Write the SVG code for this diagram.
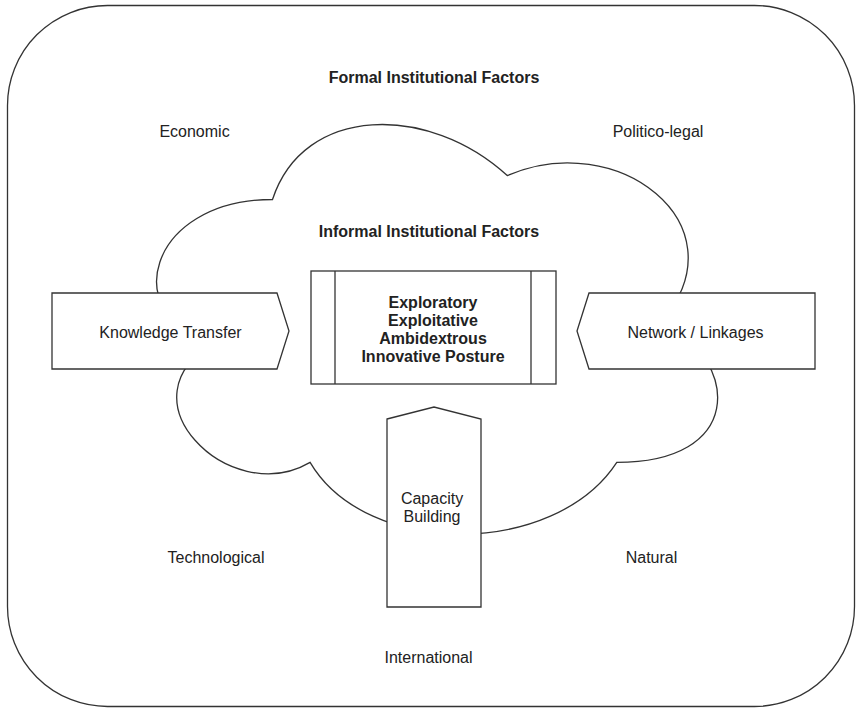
<svg xmlns="http://www.w3.org/2000/svg" width="856" height="708" viewBox="0 0 856 708">
  <style>
    .shape { fill: #ffffff; stroke: #333333; stroke-width: 1.3; stroke-linejoin: miter; }
    .line { fill: none; stroke: #333333; stroke-width: 1.3; }
    text { font-family: "Liberation Sans", Arial, Helvetica, sans-serif; font-size: 16px; fill: #222222; text-anchor: middle; }
    .bold { font-weight: bold; }
  </style>
  <rect width="856" height="708" fill="#ffffff"/>

  <!-- Formal institutional environment -->
  <g id="formal-factors">
    <rect class="shape" x="7.5" y="5.5" width="847" height="701" rx="100" ry="100"/>
    <text class="bold" x="434" y="83">Formal Institutional Factors</text>
    <text x="194.5" y="137">Economic</text>
    <text x="658" y="137">Politico-legal</text>
    <text x="216" y="563">Technological</text>
    <text x="651.5" y="563">Natural</text>
    <text x="428.5" y="663">International</text>
  </g>

  <!-- Informal institutional cloud -->
  <g id="informal-factors">
    <path class="shape" d="M272.5,199.5 C147.3,199.5 116,319 216.2,342.9 C116,395.5 228.7,510.2 310.1,462.4 C366.4,558 554.2,558 616.8,462.4 C742,462.4 742,366.8 663.75,319 C742,223.4 616.8,127.8 507.25,175.6 C429,103.9 303.8,103.9 272.5,199.5 Z"/>
    <text class="bold" x="429" y="237">Informal Institutional Factors</text>
  </g>

  <!-- Central posture process box -->
  <g id="innovative-posture">
    <rect class="shape" x="311" y="271" width="245" height="113"/>
    <line class="line" x1="335" y1="271" x2="335" y2="384"/>
    <line class="line" x1="531" y1="271" x2="531" y2="384"/>
    <text class="bold" x="433" y="307.5">Exploratory</text>
    <text class="bold" x="433" y="325.5">Exploitative</text>
    <text class="bold" x="433" y="343.5">Ambidextrous</text>
    <text class="bold" x="433" y="361.5">Innovative Posture</text>
  </g>

  <!-- Knowledge transfer (points right) -->
  <g id="knowledge-transfer">
    <path class="shape" d="M52,293 L277,293 L289,331 L277,369 L52,369 Z"/>
    <text x="170.5" y="338">Knowledge Transfer</text>
  </g>

  <!-- Network / linkages (points left) -->
  <g id="network-linkages">
    <path class="shape" d="M589,293 L815,293 L815,369 L589,369 L577,331 Z"/>
    <text x="695.5" y="338">Network / Linkages</text>
  </g>

  <!-- Capacity building (points up) -->
  <g id="capacity-building">
    <path class="shape" d="M387,419 L434,407 L481,419 L481,607 L387,607 Z"/>
    <text x="432" y="504">Capacity</text>
    <text x="432" y="521.5">Building</text>
  </g>
</svg>
